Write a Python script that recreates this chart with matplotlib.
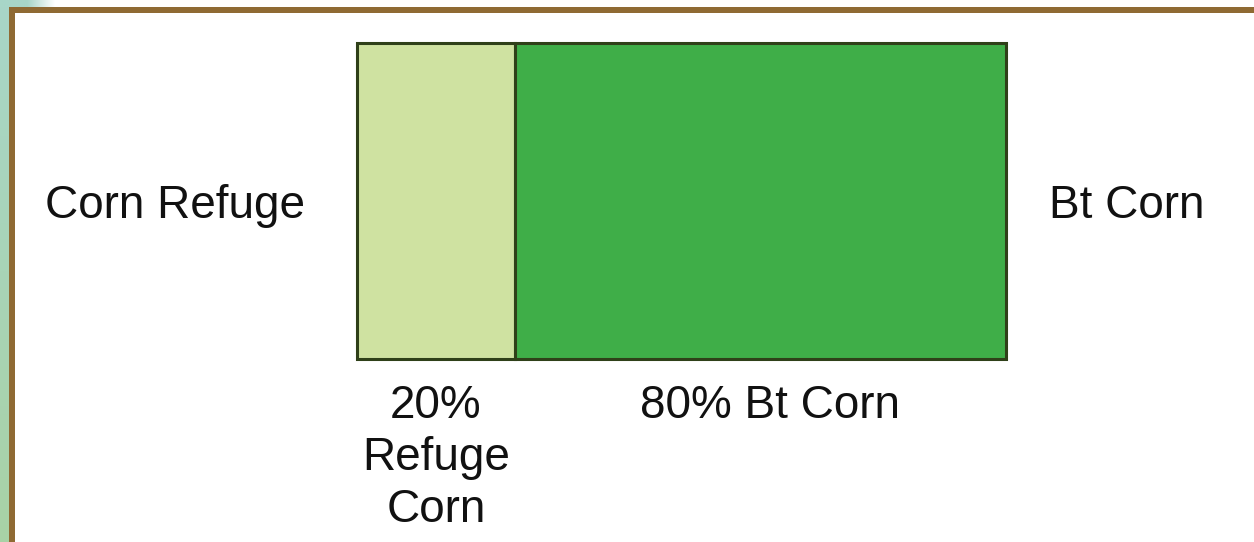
import matplotlib
matplotlib.use("Agg")
import matplotlib.pyplot as plt
import numpy as np
from matplotlib.patches import Rectangle
from matplotlib.colors import LinearSegmentedColormap
from matplotlib.transforms import blended_transform_factory

# data
segments = ["Refuge Corn", "Bt Corn"]
shares = [0.243, 0.757]          # drawn widths
seg_labels = ["20%\nRefuge\nCorn", "80% Bt Corn"]
seg_colors = ["#cfe2a1", "#3fae48"]
side_labels = ["Corn Refuge", "Bt Corn"]

W, H = 1254, 542
fig = plt.figure(figsize=(W / 100, H / 100), dpi=100)
fig.patch.set_facecolor("white")

# left teal strip (gradient)
strip = fig.add_axes([0, 0, 10 / W, 1])
grad = np.linspace(0, 1, 256).reshape(-1, 1)
cmap = LinearSegmentedColormap.from_list("t", ["#a8d6c8", "#a8d2a6"])
strip.imshow(grad, aspect="auto", cmap=cmap, extent=[0, 1, 1, 0])
strip.axis("off")
# top teal fade
topf = fig.add_axes([0, 1 - 7 / H, 55 / W, 7 / H])
hg = np.linspace(0, 1, 256).reshape(1, -1)
cmap2 = LinearSegmentedColormap.from_list("t2", ["#a8d6c8", "#a8d6c8", "#ffffff"])
topf.imshow(hg, aspect="auto", cmap=cmap2, extent=[0, 1, 0, 1])
topf.axis("off")

# brown border
brown = "#8f6a33"
fig.patches.append(Rectangle((9 / W, 0), 6 / W, 1 - 7 / H, transform=fig.transFigure,
                             facecolor=brown, edgecolor="none", zorder=5))
fig.patches.append(Rectangle((9 / W, 1 - 13 / H), 1 - 9 / W, 6 / H, transform=fig.transFigure,
                             facecolor=brown, edgecolor="none", zorder=5))

# main bar
x0, x1, ytop, ybot = 357, 1006, 43, 359
ax = fig.add_axes([x0 / W, 1 - ybot / H, (x1 - x0) / W, (ybot - ytop) / H])
lefts = np.concatenate([[0], np.cumsum(shares)[:-1]])
ax.barh([0, 0], shares, left=lefts, height=1, color=seg_colors,
        edgecolor="#2f4019", linewidth=2.2, clip_on=False)
ax.set_xlim(0, 1)
ax.set_ylim(-0.5, 0.5)
ax.axis("off")

font = "Liberation Sans"
fs = 33
tcol = "#111111"
centers = lefts + np.array(shares) / 2
tr = blended_transform_factory(ax.transData, fig.transFigure)
base0 = 418
step = 52
for i, line in enumerate(seg_labels[0].split("\n")):
    ax.text(centers[0], 1 - (base0 + i * step) / H, line, transform=tr,
            ha="center", va="baseline", fontsize=fs, family=font, color=tcol)
ax.text(centers[1] + 0.015, 1 - base0 / H, seg_labels[1], transform=tr,
        ha="center", va="baseline", fontsize=fs, family=font, color=tcol)

fig.text(175 / W, 1 - 218 / H, side_labels[0], ha="center", va="baseline",
         fontsize=fs, family=font, color=tcol)
fig.text(1127 / W, 1 - 218 / H, side_labels[1], ha="center", va="baseline",
         fontsize=fs, family=font, color=tcol)

fig.savefig("out.png", dpi=100, facecolor="white")
